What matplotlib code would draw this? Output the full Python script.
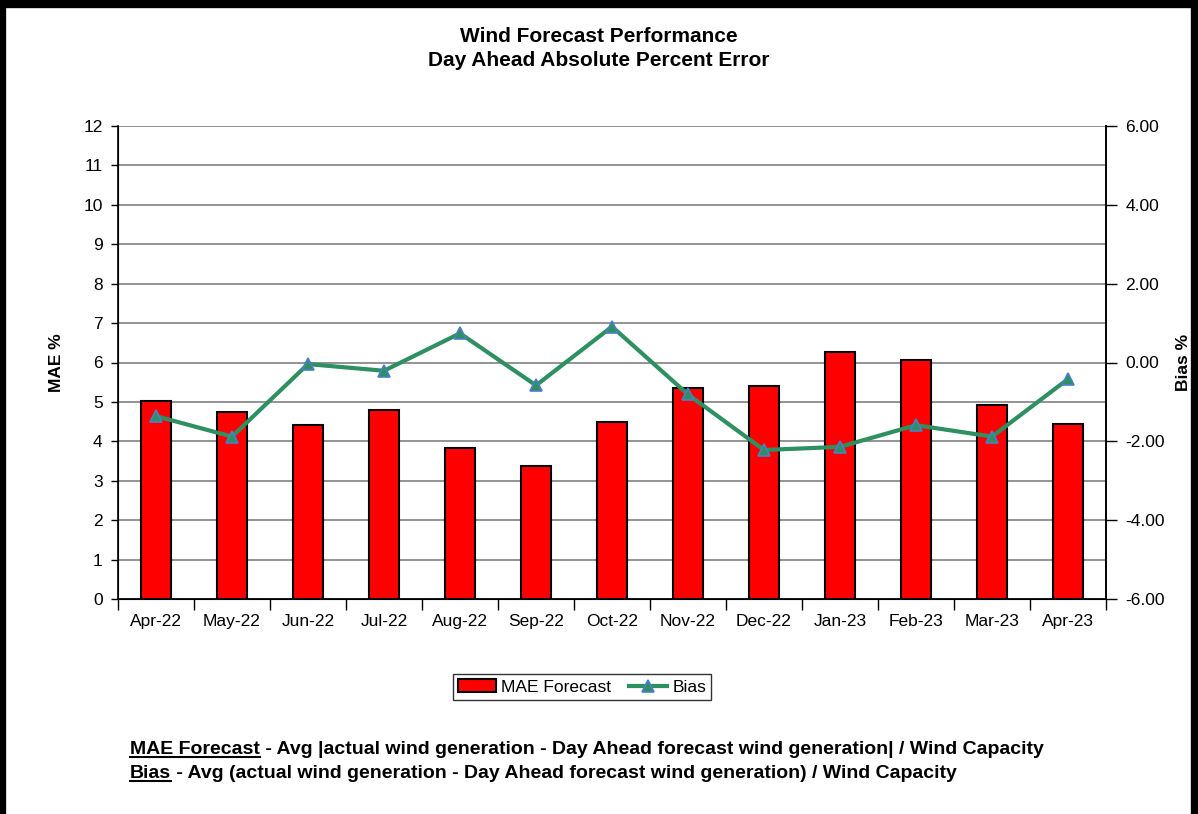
import matplotlib.pyplot as plt
from matplotlib.patches import Rectangle
from matplotlib.lines import Line2D
import numpy as np

plt.rcParams['font.family'] = ['Liberation Sans', 'DejaVu Sans']

# data
months = ['Apr-22', 'May-22', 'Jun-22', 'Jul-22', 'Aug-22', 'Sep-22', 'Oct-22',
          'Nov-22', 'Dec-22', 'Jan-23', 'Feb-23', 'Mar-23', 'Apr-23']
mae = [5.02, 4.75, 4.42, 4.79, 3.84, 3.38, 4.48, 5.36, 5.40, 6.27, 6.07, 4.92, 4.45]
bias = [-1.36, -1.88, -0.04, -0.21, 0.74, -0.58, 0.91, -0.81, -2.22, -2.14, -1.59, -1.88, -0.42]
left_ticks = list(range(0, 13))
right_ticks = [-6, -4, -2, 0, 2, 4, 6]
notes = [('MAE Forecast', ' - Avg |actual wind generation - Day Ahead forecast wind generation| / Wind Capacity'),
         ('Bias', ' - Avg (actual wind generation - Day Ahead forecast wind generation) / Wind Capacity')]

W, H = 1198, 814
FS = 12.5
fig = plt.figure(figsize=(W / 100, H / 100), dpi=100)
ax = fig.add_axes([118 / W, 1 - 599 / H, 988 / W, 473 / H])
x = np.arange(len(months))

# bars on the left axis
ax.bar(x, mae, width=0.4, color='#ff0000', edgecolor='black', linewidth=1.5,
       label='MAE Forecast', zorder=3)
ax.set_xlim(-0.5, len(months) - 0.5)
ax.set_ylim(0, 12)
ax.set_yticks(left_ticks)
ax.yaxis.grid(True, color='#808080', linewidth=1.2, zorder=0)
ax.set_axisbelow(True)
ax.set_xticks(x)
ax.set_xticklabels(months)
ax.set_xticks(np.arange(-0.5, len(months)), minor=True)
ax.tick_params(axis='x', which='major', length=0, pad=11, labelsize=FS)
ax.tick_params(axis='x', which='minor', length=8, width=1, direction='out')
ax.tick_params(axis='y', length=5, width=1, labelsize=FS, pad=6)
ax.set_ylabel('MAE %', fontsize=FS, fontweight='bold', labelpad=14)
ax.spines['top'].set_visible(False)
for s in ['left', 'bottom', 'right']:
    ax.spines[s].set_linewidth(1.2)

# bias line on the right axis
ax2 = ax.twinx()
ax2.plot(x, bias, color='#2e9060', linewidth=3, marker='^', markersize=9,
         markerfacecolor='#2e9060', markeredgecolor='#4a7fc8', markeredgewidth=1.2,
         label='Bias', zorder=4)
ax2.set_ylim(-6, 6)
ax2.set_yticks(right_ticks)
ax2.set_yticklabels([f'{v:.2f}' for v in right_ticks])
ax2.tick_params(axis='y', length=8, width=1, labelsize=FS, pad=6)
ax2.set_ylabel('Bias %', fontsize=FS, fontweight='bold', labelpad=8)
ax2.spines['top'].set_visible(False)
ax2.spines['right'].set_linewidth(1.2)

# legend
h1, l1 = ax.get_legend_handles_labels()
h2, l2 = ax2.get_legend_handles_labels()
leg = fig.legend(h1 + h2, l1 + l2, loc='center', bbox_to_anchor=(582 / W, 1 - 687 / H),
                 ncol=2, frameon=True, fancybox=False, edgecolor='black', fontsize=FS,
                 handlelength=2.2, handletextpad=0.3, columnspacing=1.0, borderpad=0.3)
leg.get_frame().set_linewidth(1)

# titles
fig.text(0.5, 1 - 37 / H, 'Wind Forecast Performance', ha='center', va='center',
         fontsize=15, fontweight='bold')
fig.text(0.5, 1 - 61 / H, 'Day Ahead Absolute Percent Error', ha='center', va='center',
         fontsize=15, fontweight='bold')

# footnotes, first word underlined
renderer = fig.canvas.get_renderer()
for i, (head, rest) in enumerate(notes):
    yy = 1 - (754 + 24 * i) / H
    t = fig.text(130 / W, yy, head, ha='left', va='baseline', fontsize=14, fontweight='bold')
    bb = t.get_window_extent(renderer)
    fig.text(bb.x1 / W, yy, rest, ha='left', va='baseline', fontsize=14, fontweight='bold')
    uy = yy - 3 / H
    fig.add_artist(Line2D([bb.x0 / W, bb.x1 / W], [uy, uy], color='black', linewidth=1.5,
                          transform=fig.transFigure))

# outer frame
fig.patches.append(Rectangle((2 / W, -0.01), 1 - 5 / W, 1 - 4 / H + 0.01,
                             transform=fig.transFigure, fill=False,
                             edgecolor='black', linewidth=6))

fig.savefig('out.png', dpi=100)
